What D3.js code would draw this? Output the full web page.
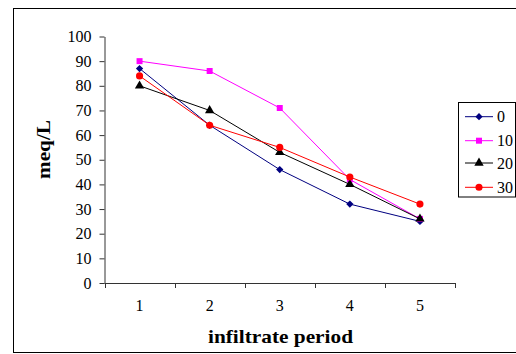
<!DOCTYPE html>
<html>
<head>
<meta charset="utf-8">
<script src="https://cdn.jsdelivr.net/npm/d3@7"></script>
<style>
  html, body { margin: 0; padding: 0; background: #fff; }
  svg text { font-family: 'Liberation Serif', 'Times New Roman', serif; }
</style>
</head>
<body>
<svg id="chart" width="516" height="354"></svg>
<script>
// Infiltrate periods (x categories)
const periods = [1, 2, 3, 4, 5];
// Series names as shown in the legend
const seriesNames = ["0", "10", "20", "30"];
// Concentration values (meq/L) for each series
const s0  = [87, 64, 46, 32, 25];
const s10 = [90, 86, 71, 42, 26];
const s20 = [80, 70, 53, 40, 26];
const s30 = [84, 64, 55, 43, 32];
const yTicks = [0, 10, 20, 30, 40, 50, 60, 70, 80, 90, 100];

const seriesValues = [s0, s10, s20, s30];
const colors = ["#000080", "#FF00FF", "#000000", "#FF0000"];
const symbols = [d3.symbolDiamond2, d3.symbolSquare, d3.symbolTriangle, d3.symbolCircle];
const symSizes = [34, 36, 38, 40];
const FONT = "'Liberation Serif', 'Times New Roman', serif";

const svg = d3.select("#chart");

// Outer chart frame
svg.append("rect")
  .attr("x", 13.5).attr("y", 8.5)
  .attr("width", 520).attr("height", 344)
  .attr("fill", "#fff").attr("stroke", "#000").attr("stroke-width", 1);

const plot = { left: 104.5, right: 455, top: 36.5, bottom: 283 };

const x = d3.scaleBand().domain(periods).range([plot.left, plot.right]).padding(0);
const y = d3.scaleLinear().domain([0, 100]).range([plot.bottom, plot.top]);
const cx = d => x(d) + x.bandwidth() / 2;

// Y axis
const yAxis = svg.append("g")
  .attr("transform", `translate(${plot.left},0)`)
  .call(d3.axisLeft(y).tickValues(yTicks).tickSize(5).tickPadding(8).tickSizeOuter(0));
yAxis.attr("font-family", null);
yAxis.selectAll("text").attr("fill", "#000")
  .style("font-family", FONT).style("font-size", "16px");
yAxis.selectAll("line, path").attr("stroke", "#333");

// X axis: ticks on the category boundaries, labels at the centres
const xAxisG = svg.append("g").attr("transform", `translate(0,${plot.bottom})`);
xAxisG.append("line")
  .attr("x1", plot.left).attr("x2", plot.right)
  .attr("y1", 0.5).attr("y2", 0.5)
  .attr("stroke", "#333");
const boundaries = periods.map(p => x(p)).concat([plot.right]);
xAxisG.selectAll("line.tick").data(boundaries).join("line")
  .attr("class", "tick")
  .attr("x1", d => Math.round(d) + 0.5).attr("x2", d => Math.round(d) + 0.5)
  .attr("y1", 0).attr("y2", 5)
  .attr("stroke", "#333");
xAxisG.selectAll("text").data(periods).join("text")
  .attr("x", d => cx(d)).attr("y", 28)
  .attr("text-anchor", "middle")
  .style("font-family", FONT).style("font-size", "16px")
  .text(d => d);

// Axis titles
svg.append("text")
  .attr("transform", "translate(50,149.5) rotate(-90)")
  .attr("text-anchor", "middle")
  .style("font-family", FONT).style("font-size", "19px").style("font-weight", "bold")
  .attr("textLength", 59).attr("lengthAdjust", "spacingAndGlyphs")
  .text("meq/L");

svg.append("text")
  .attr("x", 280.5).attr("y", 343)
  .attr("text-anchor", "middle")
  .style("font-family", FONT).style("font-size", "19.5px").style("font-weight", "bold")
  .attr("textLength", 145).attr("lengthAdjust", "spacingAndGlyphs")
  .text("infiltrate period");

// Lines and markers
const line = d3.line().x((d, i) => cx(periods[i])).y(d => y(d));
seriesValues.forEach((vals, k) => {
  svg.append("path")
    .datum(vals)
    .attr("d", line)
    .attr("fill", "none")
    .attr("stroke", colors[k])
    .attr("stroke-width", 1);
  svg.append("g").selectAll("path").data(vals).join("path")
    .attr("transform", (d, i) => `translate(${cx(periods[i])},${y(d)})`)
    .attr("d", d3.symbol().type(symbols[k]).size(symSizes[k]))
    .attr("fill", colors[k]);
});

// Legend
const legend = svg.append("g");
legend.append("rect")
  .attr("x", 458.5).attr("y", 102.5)
  .attr("width", 57).attr("height", 94.5)
  .attr("fill", "#fff").attr("stroke", "#000");
const legY = [116.7, 140.7, 163, 187.3];
seriesNames.forEach((name, k) => {
  const g = legend.append("g").attr("transform", `translate(0,${legY[k]})`);
  g.append("line").attr("x1", 465).attr("x2", 493).attr("y1", 0).attr("y2", 0)
    .attr("stroke", colors[k]);
  g.append("path").attr("transform", "translate(479,0)")
    .attr("d", d3.symbol().type(symbols[k]).size(symSizes[k]))
    .attr("fill", colors[k]);
  g.append("text").attr("x", 497).attr("y", 5.5)
    .style("font-family", FONT).style("font-size", "16px")
    .text(name);
});
</script>
</body>
</html>
